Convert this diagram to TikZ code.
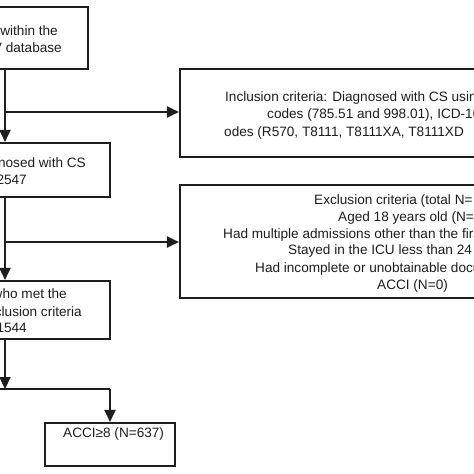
\documentclass[tikz,border=0pt]{standalone}
\usepackage{fontspec}
\setmainfont{Liberation Sans}
\usetikzlibrary{arrows.meta}
\definecolor{ink}{HTML}{1E1E1E}
\begin{document}
\begin{tikzpicture}[x=1pt,y=-1pt,
  box/.style={draw=ink,line width=2.1pt,rectangle,inner sep=0pt},
  txt/.style={inner sep=0pt,text=ink,font=\fontsize{13.6}{16}\selectfont},
  ln/.style={draw=ink,line width=2.1pt},
  arr/.style={ln,-{Triangle[length=12pt,width=11pt]}}]
\useasboundingbox (0,0) rectangle (474,474);
\clip (0,0) rectangle (474,474);
\fill[white] (0,0) rectangle (474,474);
% boxes
\node[box,minimum width=188pt,minimum height=62pt] (b1) at (-6,38) {};
\node[box,minimum width=210pt,minimum height=54pt] (b2) at (5,170) {};
\node[box,minimum width=210pt,minimum height=58pt] (b3) at (5,310) {};
\node[box,minimum width=420pt,minimum height=88pt] (inc) at (390,113) {};
\node[box,minimum width=420pt,minimum height=113pt] (exc) at (390,241.5) {};
\node[box,minimum width=130pt,minimum height=43pt] (fin) at (110,444.5) {};
% texts
\node[txt,anchor=base east] (t11) at (58,35.5) {Patients within the};
\node[txt,anchor=base east] (t12) at (62,52.5) {MIMIC-IV database};
\node[txt,anchor=base west] (i1) at (225,101) {Inclusion criteria: Diagnosed with CS using};
\node[txt,anchor=base west] (i2) at (267,118.5) {codes (785.51 and 998.01), ICD-10};
\node[txt,anchor=base west] (i3) at (224,136) {odes (R570, T8111, T8111XA, T8111XD};
\node[txt,anchor=base east] (t21) at (86,167.5) {Diagnosed with CS};
\node[txt,anchor=base east] (t22) at (27,184.5) {N=2547};
\node[txt,anchor=base west] (e1) at (314,204) {Exclusion criteria (total N=};
\node[txt,anchor=base west] (e2) at (338,221) {Aged 18 years old (N=};
\node[txt,anchor=base west] (e3) at (223,238) {Had multiple admissions other than the first};
\node[txt,anchor=base west] (e4) at (288,254.5) {Stayed in the ICU less than 24};
\node[txt,anchor=base west] (e5) at (255,272) {Had incomplete or unobtainable documents};
\node[txt,anchor=base west] (e6) at (377,289) {ACCI (N=0)};
\node[txt,anchor=base east] (t31) at (67,298.5) {Patients who met the};
\node[txt,anchor=base east] (t32) at (82,316.5) {inclusion criteria};
\node[txt,anchor=base east] (t33) at (27,332.5) {N=1544};
\node[txt,anchor=base west] (t41) at (63,437.5) {ACCI≥8 (N=637)};
% connectors
\coordinate (m) at (5,0);
\coordinate (j1) at (5,112);
\coordinate (j2) at (5,242);
\coordinate (j3) at (5,389);
\coordinate (j0) at (-30,389);
\coordinate (j4) at (110,389);
\draw[arr] (b1.south -| m) -- (b2.north -| m);
\draw[arr] (j1) -- (j1 -| inc.west);
\draw[arr] (b2.south -| m) -- (b3.north -| m);
\draw[arr] (j2) -- (j2 -| exc.west);
\draw[arr] (b3.south -| m) -- (j3);
\draw[ln] (j0) -- (j4);
\draw[arr] (j4) -- (fin.north);
\end{tikzpicture}
\end{document}
